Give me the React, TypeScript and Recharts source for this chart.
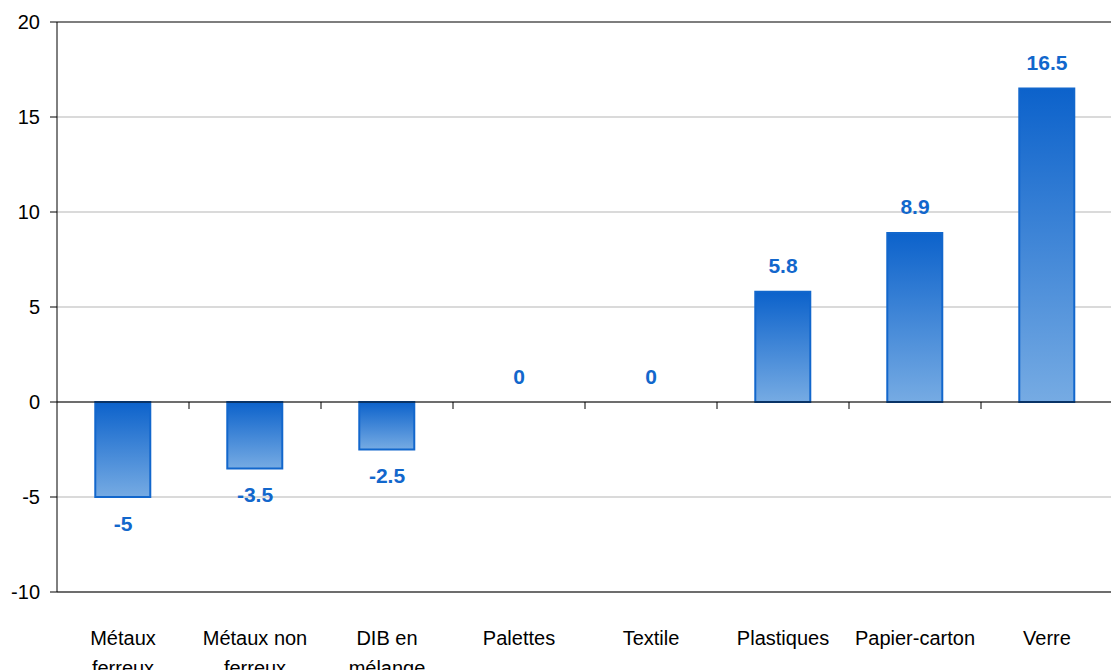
import { ComposedChart, Bar, Line, XAxis, YAxis, CartesianGrid, ReferenceLine, LabelList } from "recharts";

const categories = [
  "Métaux\nferreux",
  "Métaux non\nferreux",
  "DIB en\nmélange",
  "Palettes",
  "Textile",
  "Plastiques",
  "Papier-carton",
  "Verre",
];
const values = [-5, -3.5, -2.5, 0, 0, 5.8, 8.9, 16.5];
const yTicks = [-10, -5, 0, 5, 10, 15, 20];

const data = categories.map((name, i) => ({ name, value: values[i] }));

const FONT = "'Liberation Sans', Arial, sans-serif";
const BLUE = "#1267cc";

function CategoryTick(props: any) {
  const { x, y, payload } = props;
  const lines = String(payload.value).split("\n");
  return (
    <text x={x} y={y + 45} textAnchor="middle" fontFamily={FONT} fontSize={20} fill="#000">
      {lines.map((line, i) => (
        <tspan key={i} x={x} dy={i === 0 ? 0 : 30}>
          {line}
        </tspan>
      ))}
    </text>
  );
}

// zero line with small downward tick marks between the categories
function ZeroLine(props: any) {
  const { x1, y1, x2, y2 } = props;
  const n = categories.length;
  const step = (x2 - x1) / n;
  return (
    <g>
      <line x1={x1} y1={y1} x2={x2} y2={y2} stroke="#000" strokeWidth={1} />
      {categories.slice(1).map((_, i) => {
        const tx = x1 + step * (i + 1);
        return <line key={i} x1={tx} y1={y1} x2={tx} y2={y1 + 7} stroke="#000" strokeWidth={1} />;
      })}
    </g>
  );
}

// value labels sit on the bar end: above for positive/zero, below for negative
function ValueLabel(props: any) {
  const { x, y, value } = props;
  const cy = value < 0 ? y + 26 : y - 26;
  return (
    <text
      x={x}
      y={cy}
      textAnchor="middle"
      dominantBaseline="central"
      fontFamily={FONT}
      fontWeight="bold"
      fontSize={21}
      fill={BLUE}
    >
      {value}
    </text>
  );
}

export default function App() {
  return (
    <div style={{ position: "absolute", left: 0, top: 0, width: 1111, height: 670, overflow: "hidden", background: "#fff" }}>
      <ComposedChart
        width={1116}
        height={670}
        data={data}
        margin={{ top: 22, right: 3, left: 0, bottom: 0 }}
        barCategoryGap="29%"
      >
        <defs>
          <linearGradient id="barFill" x1="0" y1="0" x2="0" y2="1">
            <stop offset="0%" stopColor="#0c62cb" />
            <stop offset="100%" stopColor="#76abe3" />
          </linearGradient>
        </defs>
        <CartesianGrid vertical={false} stroke="#b5b5b5" />
        <XAxis
          dataKey="name"
          interval={0}
          height={78}
          axisLine={{ stroke: "#000" }}
          tickLine={false}
          tick={<CategoryTick />}
        />
        <YAxis
          width={57}
          domain={[-10, 20]}
          ticks={yTicks}
          interval={0}
          axisLine={{ stroke: "#000" }}
          tickLine={{ stroke: "#000" }}
          tickSize={7}
          tickMargin={10}
          tick={{ fontFamily: FONT, fontSize: 20, fill: "#000" }}
        />
        <ReferenceLine y={20} stroke="#222" />
        <Bar dataKey="value" fill="url(#barFill)" stroke={BLUE} strokeWidth={2} isAnimationActive={false} />
        <ReferenceLine y={0} shape={<ZeroLine />} />
        <Line
          dataKey="value"
          stroke="none"
          dot={false}
          activeDot={false}
          legendType="none"
          isAnimationActive={false}
        >
          <LabelList dataKey="value" content={<ValueLabel />} />
        </Line>
      </ComposedChart>
    </div>
  );
}
